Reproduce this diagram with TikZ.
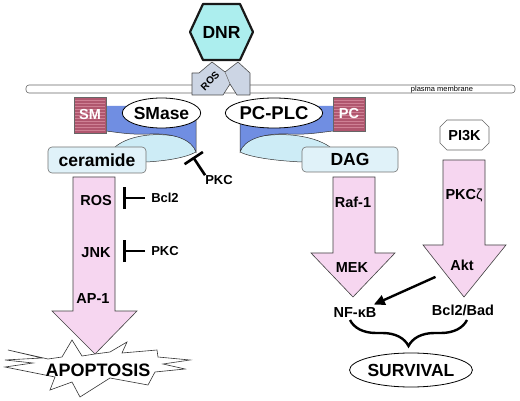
\documentclass[tikz,border=0pt]{standalone}
\usepackage{fontspec}
\setmainfont{Liberation Sans}
\usetikzlibrary{arrows.meta,shapes.geometric,decorations.pathreplacing}
\definecolor{dnrcyan}{RGB}{172,238,238}
\definecolor{pinkA}{RGB}{246,214,240}
\definecolor{boxcyan}{RGB}{224,242,249}
\definecolor{ribblue}{RGB}{112,142,226}
\definecolor{ribcyan}{RGB}{205,236,246}
\definecolor{rose}{RGB}{176,86,110}
\definecolor{roselt}{RGB}{206,128,148}
\definecolor{rosgray}{RGB}{204,213,228}
\begin{document}
\begin{tikzpicture}[x=1pt,y=-1pt,
  big/.style={font=\bfseries\fontsize{17.5}{18}\selectfont, inner sep=0pt},
  lbl/.style={font=\bfseries\fontsize{14.5}{15}\selectfont, inner sep=0pt},
  small/.style={font=\bfseries\fontsize{13}{14}\selectfont, inner sep=0pt},
  pinkarrow/.style={fill=pinkA, draw=black!75, line width=0.6pt},
  edge/.style={draw=black!80, line width=0.5pt},
  roundbox/.style={draw=black!55, fill=boxcyan, rounded corners=4pt, line width=0.6pt, big},
  oval/.style={ellipse, draw=black, fill=white, line width=0.8pt, big},
  rosebox/.style={fill=rose, draw=black!60, line width=0.5pt},
  inhib/.style={line width=2.6pt, -{Bar[width=22pt]}},
  arr/.style={line width=2.4pt, -{Triangle[length=11pt,width=10pt]}}
]
\useasboundingbox (0,0) rectangle (520,401);
\fill[white] (0,0) rectangle (520,401);

% plasma membrane
\draw[draw=black!60, fill=white, rounded corners=3pt, line width=0.6pt] (26,85) rectangle (515,93);
\node[font=\fontsize{7.5}{8}\selectfont, inner sep=0pt] (pm) at (442,89.3) {plasma membrane};

% ROS crossing the membrane
\draw[fill=rosgray, draw=black!70, line width=0.6pt, line join=round]
  (192,95) -- (192,73) -- (199,73) -- (212,62) -- (225,72) -- (238,62) -- (250,73)
  -- (250,95) -- (237,95) -- (230,84) -- (223,95) -- cycle;
\draw[draw=black!60, line width=0.5pt] (225,72) -- (230,84);
\node[font=\bfseries\fontsize{10}{10}\selectfont, inner sep=0pt, rotate=45] (ros0) at (210,81) {ROS};

% DNR hexagon
\draw[fill=dnrcyan, draw=black!90, line width=2.2pt, line join=round]
  (190,32) -- (203,4) -- (240,4) -- (253,32) -- (240,60) -- (203,60) -- cycle;
\node[big] (dnr) at (221.5,32) {DNR};

% left twisted ribbon
\fill[ribcyan] (115,147) .. controls (130,134) and (165,130) .. (193,141) -- (196,152)
  .. controls (185,158) and (165,161) .. (146,162) -- (146,150) -- cycle;
\draw[edge] (115,147) .. controls (130,134) and (165,130) .. (193,141);
\draw[edge] (196,152) .. controls (185,158) and (165,161) .. (146,162);
\fill[ribblue] (106,106) -- (196,106) -- (196,152) .. controls (192,140) and (175,133) .. (150,134)
  .. controls (130,135) and (115,132) .. (106,131) -- cycle;
\draw[edge] (196,112) -- (196,152) .. controls (192,140) and (175,133) .. (150,134)
  .. controls (130,135) and (115,132) .. (106,131);

% right twisted ribbon
\fill[ribcyan] (330,147) .. controls (312,134) and (272,130) .. (243,141) -- (240,152)
  .. controls (252,158) and (280,161) .. (302,162) -- (302,150) -- cycle;
\draw[edge] (330,147) .. controls (312,134) and (272,130) .. (243,141);
\draw[edge] (240,152) .. controls (252,158) and (280,161) .. (302,162);
\fill[ribblue] (333,106) -- (240,106) -- (240,152) .. controls (244,140) and (262,133) .. (288,134)
  .. controls (308,135) and (323,132) .. (333,131) -- cycle;
\draw[edge] (240,112) -- (240,152) .. controls (244,140) and (262,133) .. (288,134)
  .. controls (308,135) and (323,132) .. (333,131);

% SM and PC boxes
\draw[rosebox] (74,97) rectangle (106,133);
\foreach \k in {100,103,...,131} \draw[roselt, line width=0.5pt] (75,\k) -- (105,\k);
\node[lbl, text=white] (sm) at (90,115) {SM};
\draw[rosebox] (333,97) rectangle (365,131);
\foreach \k in {100,103,...,129} \draw[roselt, line width=0.5pt] (334,\k) -- (364,\k);
\node[lbl, text=white] (pc) at (349,114) {PC};

% enzymes
\node[oval, minimum width=77pt, minimum height=30pt, inner sep=0pt] (smase) at (161.5,113) {SMase};
\node[oval, minimum width=78pt, minimum height=30pt, inner sep=0pt, font=\bfseries\fontsize{18.5}{19}\selectfont] (pcplc) at (274,113) {PC-PLC};

% lipid products
\node[roundbox, minimum width=98pt, minimum height=26pt] (ceramide) at (97,160) {ceramide};
\node[roundbox, minimum width=96pt, minimum height=25pt] (dag) at (350,159.5) {DAG};

% PI3K
\draw[fill=white, draw=black!60, line width=0.7pt]
  (447,120) -- (482,120) -- (489,127) -- (489,143) -- (482,150) -- (447,150) -- (440,143) -- (440,127) -- cycle;
\node[lbl] (pi3k) at (464.5,135.5) {PI3K};

% big arrows
\draw[pinkarrow] (73,177) -- (115,177) -- (115,311) -- (137,311) -- (95,354) -- (52,311) -- (73,311) -- cycle;
\draw[pinkarrow] (333,177) -- (375,177) -- (375,253) -- (395,253) -- (353,297) -- (311,253) -- (333,253) -- cycle;
\draw[pinkarrow] (443,160) -- (485,160) -- (485,245) -- (506,245) -- (464,297) -- (423,245) -- (443,245) -- cycle;

% APOPTOSIS burst
\draw[fill=white, draw=black!80, line width=0.6pt]
  (8,350) -- (48,359) -- (62,357) -- (72,340) -- (82,356) -- (95,354) -- (110,352) -- (127,342)
  -- (122,353) -- (157,350) -- (158,357) -- (190,360) -- (163,364) -- (185,369) -- (155,372)
  -- (148,385) -- (110,378) -- (80,397) -- (72,382) -- (50,390) -- (55,377) -- (5,367)
  -- (33,363) -- (5,360) -- (42,358) -- cycle;
\node[font=\bfseries\fontsize{18}{18}\selectfont, inner sep=0pt] (apop) at (98,370) {APOPTOSIS};

% labels inside arrows
\node[lbl] (ros) at (96,201) {ROS};
\node[lbl] (jnk) at (96,253) {JNK};
\node[lbl] (ap1) at (93,299) {AP-1};
\node[lbl] (raf) at (353,202) {Raf-1};
\node[lbl] (mek) at (352,268) {MEK};
\node[lbl] (pkcz) at (464,195) {PKC{\mdseries ζ}};
\node[lbl] (akt) at (462,265) {Akt};
\node[lbl] (nfkb) at (355,313) {NF-κB};
\node[lbl] (bclbad) at (463,310) {Bcl2/Bad};

% inhibitors
\node[small] (bcl2) at (165,198) {Bcl2};
\node[small] (pkc2) at (165,251) {PKC};
\node[small] (pkc1) at (219,180) {PKC};
\coordinate (barA) at (123,198);
\coordinate (barB) at (123,251);
\coordinate (barC) at (193,157);
\draw[inhib, shorten <=6pt] (bcl2.west) -- (barA);
\draw[inhib, shorten <=6pt] (pkc2.west) -- (barB);
\draw[inhib] (pkc1.north west) -- (barC);

% Akt -> NF-kB
\draw[arr, shorten <=16pt, shorten >=8pt] (akt) -- (nfkb);

% brace to survival
\coordinate (brL) at (350,320);
\coordinate (brR) at (467,320);
\draw[line width=2.4pt, decorate, decoration={brace, mirror, amplitude=26pt}] (brL) -- (brR);
\node[ellipse, draw=black, line width=0.8pt, minimum width=122pt, minimum height=34pt, inner sep=0pt,
  font=\bfseries\fontsize{17.5}{18}\selectfont] (surv) at (411,370) {SURVIVAL};
\end{tikzpicture}
\end{document}
